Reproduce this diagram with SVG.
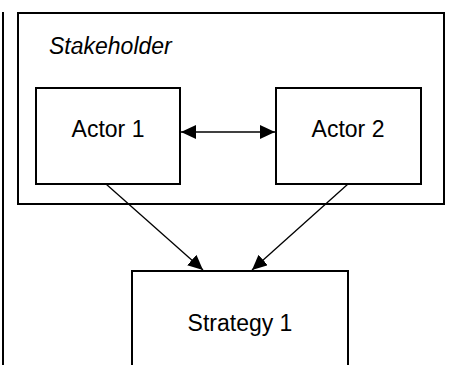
<svg xmlns="http://www.w3.org/2000/svg" width="449" height="365" viewBox="0 0 449 365">
  <style>
    .box { fill: #fff; stroke: #000; stroke-width: 2; }
    .edge { fill: none; stroke: #000; stroke-width: 1.3; }
    .label { font-family: "Liberation Sans", Arial, sans-serif; font-size: 23px; fill: #000; }
    .center { text-anchor: middle; }
    .ital { font-style: italic; }
  </style>
  <defs>
    <marker id="head" viewBox="0 0 15 14" refX="15" refY="7" markerWidth="15" markerHeight="14" markerUnits="userSpaceOnUse" orient="auto-start-reverse">
      <path d="M0,0 L15,7 L0,14 Z" fill="#000"/>
    </marker>
  </defs>

  <!-- edge of neighbouring frame -->
  <line x1="3" y1="12" x2="3" y2="365" stroke="#000" stroke-width="2"/>

  <g id="stakeholder">
    <rect class="box" x="18" y="13" width="426" height="191"/>
    <text class="label ital" x="49" y="54">Stakeholder</text>
  </g>

  <g id="actor1">
    <rect class="box" x="36" y="88" width="144" height="96"/>
    <text class="label center" x="108" y="137">Actor 1</text>
  </g>

  <g id="actor2">
    <rect class="box" x="276" y="88" width="145" height="96"/>
    <text class="label center" x="348" y="137">Actor 2</text>
  </g>

  <g id="strategy1">
    <rect class="box" x="132" y="271" width="216" height="110"/>
    <text class="label center" x="240" y="331">Strategy 1</text>
  </g>

  <g id="connectors">
    <line class="edge" x1="181" y1="132" x2="275" y2="132" marker-start="url(#head)" marker-end="url(#head)"/>
    <line class="edge" x1="106" y1="184" x2="203" y2="270" marker-end="url(#head)"/>
    <line class="edge" x1="348" y1="184" x2="252" y2="270" marker-end="url(#head)"/>
  </g>
</svg>
